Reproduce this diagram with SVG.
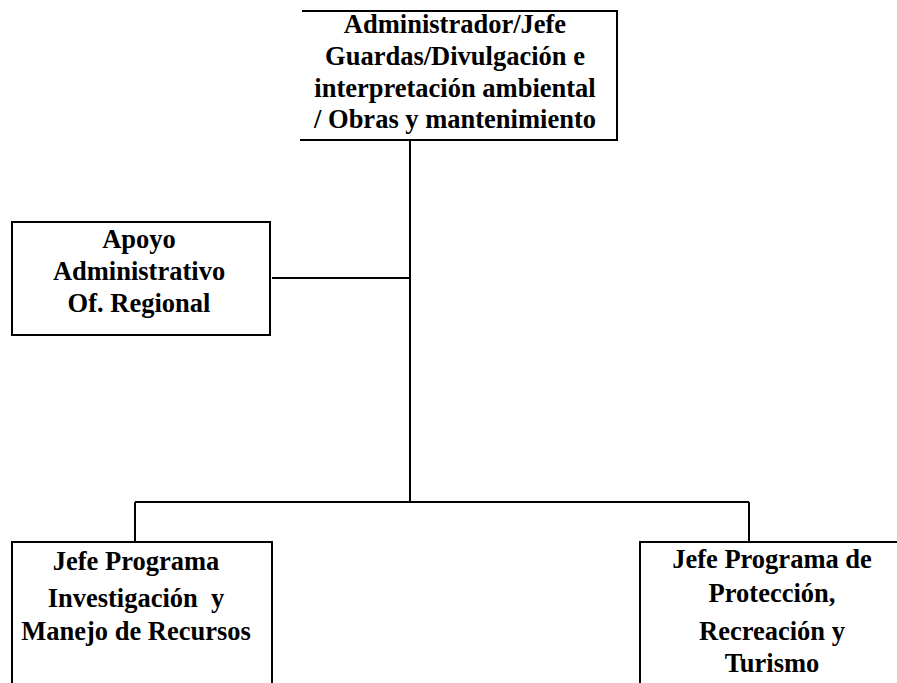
<svg xmlns="http://www.w3.org/2000/svg" width="897" height="683" viewBox="0 0 897 683">
<style>
.box{fill:#fff;stroke:#000;stroke-width:2}
.t{font-family:"Liberation Serif","Times New Roman",serif;font-weight:bold;font-size:26.5px;fill:#000;text-anchor:middle;white-space:pre}
.c{fill:none;stroke:#000;stroke-width:2}
</style>
<rect width="897" height="683" fill="#fff"/>
<g id="connectors">
<path class="c" d="M410 141V502M272 278H410M135 502H749M135 502V542M749 502V542"/>
</g>
<g id="admin">
<path class="box" d="M302 11H617V140H300"/>
<path d="M617 11V140" class="c"/>
<text class="t" x="455" y="33">Administrador/Jefe</text>
<text class="t" x="455" y="65">Guardas/Divulgación e</text>
<text class="t" x="455" y="97">interpretación ambiental</text>
<text class="t" x="455" y="128">/ Obras y mantenimiento</text>
</g>
<g id="apoyo">
<rect class="box" x="12" y="222" width="258" height="113"/>
<text class="t" x="139" y="248">Apoyo</text>
<text class="t" x="139" y="280">Administrativo</text>
<text class="t" x="139" y="312">Of. Regional</text>
</g>
<g id="investigacion">
<path class="box" d="M12 690V542H272V690"/>
<text class="t" x="136" y="570">Jefe Programa</text>
<text class="t" x="136" y="607" xml:space="preserve">Investigación  y</text>
<text class="t" x="136" y="640">Manejo de Recursos</text>
</g>
<g id="proteccion">
<path class="box" d="M640 690V542H900"/>
<text class="t" x="772" y="568">Jefe Programa de</text>
<text class="t" x="772" y="602">Protección,</text>
<text class="t" x="772" y="640">Recreación y</text>
<text class="t" x="772" y="672">Turismo</text>
</g>
</svg>
